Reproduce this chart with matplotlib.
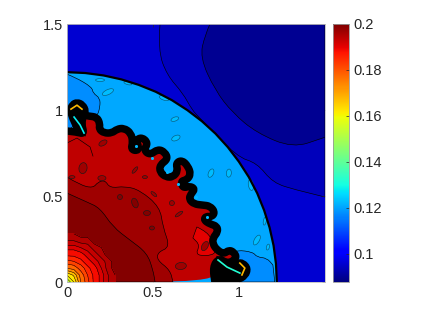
import numpy as np
import matplotlib
matplotlib.use("Agg")
import matplotlib.pyplot as plt
from matplotlib.colors import Normalize
from matplotlib.cm import ScalarMappable
from matplotlib.patches import Ellipse, PathPatch
from matplotlib.path import Path

plt.rcParams['font.family'] = ['Liberation Sans', 'DejaVu Sans']

# colour range and level values of the flat regions
vmin, vmax = 0.0878, 0.2
v_corner, v_mid, v_navy = 0.0957, 0.0935, 0.0898
v_shell, v_shell2 = 0.1203, 0.1172
v_red, v_red_bright, v_red2, v_red3 = 0.1935, 0.190, 0.1965, 0.1995
x_ticks = [0, 0.5, 1]
y_ticks = [0, 0.5, 1, 1.5]
cbar_ticks = [0.1, 0.12, 0.14, 0.16, 0.18, 0.2]
cbar_labels = ['0.1', '0.12', '0.14', '0.16', '0.18', '0.2']

# leading shock
shock_x = [1.22, 1.215, 1.201, 1.178, 1.146, 1.106, 1.057, 0.999, 0.935, 0.863,
           0.784, 0.700, 0.610, 0.516, 0.417, 0.316, 0.212, 0.106, 0]
shock_y = [0, 0.106, 0.212, 0.316, 0.417, 0.516, 0.610, 0.700, 0.784, 0.863,
           0.935, 0.999, 1.057, 1.106, 1.146, 1.178, 1.201, 1.215, 1.22]

# black interface
band_x = [0, 0.058, 0.099, 0.087, 0.076, 0.099, 0.128, 0.174, 0.192, 0.186, 0.215, 0.261,
          0.291, 0.331, 0.372, 0.383, 0.372, 0.407, 0.418, 0.401, 0.436, 0.471, 0.447,
          0.482, 0.529, 0.569, 0.587, 0.540, 0.540, 0.575, 0.616, 0.645, 0.633, 0.668,
          0.703, 0.720, 0.697, 0.662, 0.674, 0.715, 0.744, 0.720, 0.709, 0.738, 0.790,
          0.831, 0.860, 0.842, 0.808, 0.796, 0.831, 0.872, 0.877, 0.848, 0.848, 0.872,
          0.912, 0.941, 0.970, 0.988, 0.935, 0.883, 0.848, 0.860]
band_y = [0.878, 0.872, 0.860, 0.913, 0.953, 0.971, 0.964, 0.959, 0.918, 0.889, 0.866, 0.866,
          0.889, 0.895, 0.866, 0.813, 0.773, 0.761, 0.784, 0.825, 0.842, 0.808, 0.767,
          0.738, 0.773, 0.755, 0.715, 0.680, 0.639, 0.610, 0.610, 0.645, 0.691, 0.709,
          0.674, 0.627, 0.593, 0.587, 0.546, 0.558, 0.540, 0.511, 0.482, 0.453, 0.447,
          0.442, 0.407, 0.378, 0.383, 0.360, 0.337, 0.325, 0.291, 0.256, 0.221, 0.186,
          0.163, 0.186, 0.174, 0.139, 0.105, 0.139, 0.087, 0]

# the two rolled up heads next to the axes
head1_x = [0.058, 0.029, 0.006, 0.023, 0.058, 0.099, 0.122, 0.099, 0.099]
head1_y = [0.872, 0.930, 0.999, 1.040, 1.057, 1.040, 0.994, 0.959, 0.860]
head2_x = [0.878, 0.947, 0.988, 1.028, 1.063, 1.046, 0.994, 0.866]
head2_y = [0.139, 0.116, 0.122, 0.122, 0.081, 0.029, 0, 0]
jet1_x, jet1_y = [0.041, 0.076, 0.099], [0.959, 0.913, 0.866]
arc1_x, arc1_y = [0.023, 0.058, 0.087], [1.005, 1.028, 1.005]
jet2_x, jet2_y = [0.878, 0.930, 1.005], [0.128, 0.087, 0.052]
arc2_x, arc2_y = [1.005, 1.034, 1.017], [0.110, 0.081, 0.041]
spot_x = [0.401, 0.494, 0.581, 0.645, 0.750, 0.813]
spot_y = [0.791, 0.720, 0.639, 0.569, 0.494, 0.378]

# region outlines outside the shock
mid_x = [0.541, 0.529, 0.581, 0.674, 0.727, 0.773, 0.988, 1.105, 1.198, 1.337, 1.5, 1.5]
mid_y = [1.5, 1.349, 1.203, 1.098, 1.0, 0.953, 0.727, 0.692, 0.575, 0.535, 0.494, 1.5]
navy_x = [0.831, 0.802, 0.773, 0.860, 0.964, 1.104, 1.313, 1.487, 1.5, 1.5]
navy_y = [1.5, 1.435, 1.307, 1.116, 0.982, 0.866, 0.779, 0.837, 0.842, 1.5]

# darker patches in the shell
patch1_x = [0, 0.046, 0.145, 0.151, 0.192, 0.192, 0.174, 0.099, 0]
patch1_y = [1.208, 1.191, 1.133, 1.098, 1.069, 1.017, 0.959, 0.953, 0.878]
patch2_x = [0.964, 0.988, 1.081, 1.104, 1.162, 1.197, 1.208, 0.994]
patch2_y = [0.174, 0.186, 0.174, 0.145, 0.139, 0.099, 0, 0]

# levels inside the bubble
red2_x = [0, 0.076, 0.151, 0.180, 0.221, 0.250, 0.337, 0.424, 0.540, 0.558, 0.599, 0.529,
          0.523, 0.599, 0.616, 0]
red2_y = [0.610, 0.564, 0.546, 0.581, 0.592, 0.546, 0.557, 0.534, 0.436, 0.319, 0.203,
          0.174, 0.128, 0.070, 0, 0]
red3_x = [0, 0.116, 0.192, 0.267, 0.366, 0.465, 0.500, 0.512, 0]
red3_y = [0.517, 0.465, 0.430, 0.320, 0.244, 0.169, 0.070, 0, 0]
bright_x = [0.755, 0.819, 0.848, 0.872, 0.744, 0.773, 0.732]
bright_y = [0.320, 0.290, 0.227, 0.157, 0.151, 0.215, 0.256]
line_x = [0, 0.058, 0.134, 0.151]
line_y = [0.808, 0.837, 0.785, 0.732]

# small closed contours: centre, width, height, angle, level
blob_x = [0.627, 0.633, 0.238, 0.192, 0.354, 0.564, 0.837, 0.941, 1.069, 1.104, 1.150, 1.168,
          0.093, 0.209, 0.395, 0.453, 0.203, 0.029, 0.505, 0.610, 0.651, 0.465, 0.494, 0.802,
          0.662, 0.308, 0.395]
blob_y = [0.947, 0.837, 1.104, 1.174, 1.156, 1.069, 0.633, 0.633, 0.564, 0.244, 0.354, 0.203,
          0.662, 0.808, 0.651, 0.610, 0.604, 0.610, 0.511, 0.459, 0.395, 0.401, 0.314, 0.209,
          0.093, 0.494, 0.459]
blob_w = [0.047, 0.052, 0.070, 0.052, 0.047, 0.058, 0.052, 0.047, 0.064, 0.064, 0.047, 0.035,
          0.064, 0.052, 0.047, 0.029, 0.047, 0.035, 0.041, 0.029, 0.052, 0.041, 0.029, 0.058,
          0.064, 0.029, 0.058]
blob_h = [0.023, 0.029, 0.029, 0.017, 0.017, 0.023, 0.029, 0.029, 0.029, 0.029, 0.017, 0.017,
          0.047, 0.029, 0.017, 0.017, 0.029, 0.017, 0.017, 0.029, 0.017, 0.029, 0.023, 0.035,
          0.041, 0.029, 0.035]
blob_a = [20, 25, 25, 0, -15, -20, 65, 85, 100, 60, 80, 75,
          80, 30, 50, 0, 0, 0, -40, 0, 35, 0, 0, 60, 5, 0, -70]
blob_v = [0.1225] * 12 + [0.1965] * 9 + [0.1995] * 2 + [0.1965] * 2 + [0.1995] * 2

# values around the corner at the origin
corner_xy = [0, 0.04, 0.08, 0.12, 0.16, 0.2, 0.24, 0.28]
corner_v = [[.150, .160, .175, .183, .188, .191, .194, .196],
            [.160, .166, .177, .184, .188, .191, .194, .196],
            [.175, .177, .182, .186, .189, .192, .195, .197],
            [.183, .184, .186, .189, .191, .193, .195, .197],
            [.188, .188, .189, .191, .193, .195, .197, .197],
            [.191, .191, .192, .193, .195, .196, .197, .197],
            [.194, .194, .195, .195, .197, .197, .197, .197],
            [.196, .196, .197, .197, .197, .197, .197, .197]]
corner_levels = [.148, .155, .16, .165, .17, .175, .18, .184, .187, .19, .192, .194, .196]

norm = Normalize(vmin, vmax)
cmap = plt.get_cmap('jet')
W, H = 423, 317

fig = plt.figure(figsize=(W / 100, H / 100), dpi=100)
ax = fig.add_axes([67 / W, (H - 282) / H, 258 / W, 258 / H])
ax.set_facecolor(cmap(norm(v_corner)))


def curve_path(xs, ys, tail=0, closed=True):
    # quadratic curve through the read points, the last "tail" points stay corners
    pts = np.column_stack([xs, ys])
    n = len(pts) - tail
    verts = [pts[0]]
    codes = [Path.MOVETO]
    for i in range(1, n - 1):
        verts += [pts[i], (pts[i] + pts[i + 1]) / 2]
        codes += [Path.CURVE3, Path.CURVE3]
    for i in range(n - 1, len(pts)):
        verts.append(pts[i])
        codes.append(Path.LINETO)
    if closed:
        verts.append(pts[0])
        codes.append(Path.CLOSEPOLY)
    return Path(verts, codes)


def region(xs, ys, v, z, tail=1, edge='k', lw=0.45):
    ax.add_patch(PathPatch(curve_path(xs, ys, tail), facecolor=cmap(norm(v)), edgecolor=edge,
                           linewidth=lw, zorder=z))


region(mid_x, mid_y, v_mid, 1, tail=2)
region(navy_x, navy_y, v_navy, 2)
ax.fill([0] + shock_x, [0] + shock_y, color=cmap(norm(v_shell)), lw=0, zorder=3)
region(patch1_x, patch1_y, v_shell2, 4)
region(patch2_x, patch2_y, v_shell2, 4, tail=2)
ax.add_patch(PathPatch(curve_path(band_x + [0], band_y + [0]), facecolor=cmap(norm(v_red)),
                       edgecolor='none', zorder=5))
region(bright_x, bright_y, v_red_bright, 6, tail=0)
region(red2_x, red2_y, v_red2, 6)
region(red3_x, red3_y, v_red3, 7)
ax.plot(line_x, line_y, color='k', lw=0.45, zorder=7)

for i in range(len(blob_x)):
    edge = '#0a5a78' if blob_v[i] < 0.15 else '0.1'
    ax.add_patch(Ellipse((blob_x[i], blob_y[i]), blob_w[i], blob_h[i], angle=blob_a[i],
                         facecolor=cmap(norm(blob_v[i])), edgecolor=edge, linewidth=0.45, zorder=8))

ax.contourf(corner_xy, corner_xy, corner_v, levels=corner_levels, cmap=cmap, norm=norm, zorder=9)
ax.contour(corner_xy, corner_xy, corner_v, levels=corner_levels, colors='k', linewidths=0.35, zorder=10)

ax.plot(shock_x, shock_y, color='k', lw=1.6, zorder=11)
ax.add_patch(PathPatch(curve_path(band_x, band_y, closed=False), facecolor='none', edgecolor='k',
                       lw=5.4, joinstyle='round', capstyle='butt', zorder=12))
for hx, hy in [(head1_x, head1_y), (head2_x, head2_y)]:
    ax.add_patch(PathPatch(curve_path(hx, hy, tail=0), facecolor='k', edgecolor='k', lw=2.5, zorder=12))
ax.plot(jet1_x, jet1_y, color=cmap(norm(0.128)), lw=1.2, zorder=13)
ax.plot(arc1_x, arc1_y, color=cmap(norm(0.168)), lw=1.2, zorder=13)
ax.plot(jet2_x, jet2_y, color=cmap(norm(0.132)), lw=1.2, zorder=13)
ax.plot(arc2_x, arc2_y, color=cmap(norm(0.168)), lw=1.2, zorder=13)
ax.scatter(spot_x, spot_y, s=5, color=cmap(norm(0.122)), linewidths=0, zorder=13)

ax.set_xlim(0, 1.5)
ax.set_ylim(0, 1.5)
ax.set_xticks(x_ticks)
ax.set_xticklabels(['0', '0.5', '1'])
ax.set_yticks(y_ticks)
ax.set_yticklabels(['0', '0.5', '1', '1.5'])
ax.tick_params(direction='in', length=2, width=0.5, colors='0.15', labelsize=10.5, pad=3,
               top=True, right=True)
for s in ax.spines.values():
    s.set_color('0.75')
    s.set_linewidth(0.6)
    s.set_zorder(20)

cax = fig.add_axes([333 / W, (H - 282) / H, 16 / W, 258 / H])
cb = fig.colorbar(ScalarMappable(norm=norm, cmap=cmap), cax=cax)
cb.set_ticks(cbar_ticks)
cb.set_ticklabels(cbar_labels)
cax.tick_params(direction='in', length=2, width=0.5, colors='0.15', labelsize=10.5, pad=3)
cb.outline.set_edgecolor('0.6')
cb.outline.set_linewidth(0.6)

fig.savefig('out.png', dpi=100)
